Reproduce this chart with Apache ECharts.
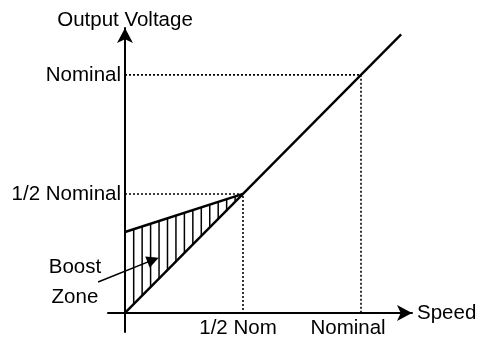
<!DOCTYPE html>
<html><head><meta charset="utf-8">
<script src="https://cdn.jsdelivr.net/npm/echarts@6/dist/echarts.min.js"></script>
<style>html,body{margin:0;padding:0;background:#fff}#c{width:478px;height:337px}</style>
</head><body><div id="c"></div>
<script>
// ---- Data (fractions of nominal) ----
const xTickValues = [0.5, 1];
const xTickLabels = ['1/2 Nom', 'Nominal'];
const yTickValues = [0.5, 1];
const yTickLabels = ['1/2 Nominal', 'Nominal'];
const outputLine = [[0, 0], [1.17, 1.17]];
const boostLine = [[0, 0.34], [0.5, 0.5]];
const boostZone = [[0, 0], [0, 0.34], [0.5, 0.5]];
const halfGuide = [[0, 0.5], [0.5, 0.5], [0.5, 0]];
const nomGuide = [[0, 1], [1, 1], [1, 0]];
const boostArrow = [[-0.114, 0.13], [0.119, 0.223]];
const boostLabelPos = [[-0.212, 0.13]];

const FONT = '"Liberation Sans", Arial, sans-serif';
const FS = 20.5;
const chart = echarts.init(document.getElementById('c'), null, {renderer: 'canvas'});

chart.setOption({
  animation: false,
  backgroundColor: '#fff',
  grid: {left: 108, right: 66, top: 28, bottom: 5, containLabel: false, outerBoundsMode: 'none'},
  xAxis: {
    type: 'value', min: -0.072, max: 1.216, position: 'bottom', offset: -19,
    axisLine: {onZero: false, lineStyle: {color: '#000', width: 2}, symbol: ['none', 'arrow'], symbolSize: [12, 15]},
    axisTick: {show: false}, splitLine: {show: false},
    axisLabel: {
      customValues: xTickValues, margin: 5, color: '#000', fontFamily: FONT, fontSize: FS,
      formatter: v => { const i = xTickValues.indexOf(v); return i === 0 ? '{a|' + xTickLabels[0] + '}' : '{b|' + xTickLabels[1] + '}'; },
      rich: {
        a: {color: '#000', fontFamily: FONT, fontSize: FS, padding: [0, 10, 0, 0]},
        b: {color: '#000', fontFamily: FONT, fontSize: FS, padding: [0, 26, 0, 0]}
      }
    },
    name: 'Speed', nameLocation: 'end', nameGap: 5,
    nameTextStyle: {color: '#000', fontFamily: FONT, fontSize: FS, verticalAlign: 'middle'}
  },
  yAxis: {
    type: 'value', min: -0.08, max: 1.197, position: 'left', offset: -17,
    axisLine: {onZero: false, lineStyle: {color: '#000', width: 2}, symbol: ['none', 'arrow'], symbolSize: [12, 15]},
    axisTick: {show: false}, splitLine: {show: false},
    axisLabel: {
      customValues: yTickValues, margin: 4, color: '#000', fontFamily: FONT, fontSize: FS,
      formatter: v => yTickLabels[yTickValues.indexOf(v)]
    },
    name: 'Output Voltage', nameLocation: 'end', nameGap: -3,
    nameTextStyle: {color: '#000', fontFamily: FONT, fontSize: FS, align: 'center'}
  },
  series: [
    {
      type: 'line', data: halfGuide, symbol: 'none', silent: true,
      lineStyle: {color: '#000', width: 1.6, type: [2, 2]}
    },
    {
      type: 'line', data: nomGuide, symbol: 'none', silent: true,
      lineStyle: {color: '#000', width: 1.6, type: [2, 2]}
    },
    {
      type: 'custom', coordinateSystem: 'cartesian2d', data: [[0, 0]], silent: true, clip: false,
      renderItem: function (params, api) {
        const a = api.coord(boostZone[0]), b = api.coord(boostZone[1]), c = api.coord(boostZone[2]);
        const children = [];
        const step = 8.45;
        for (let x = a[0] + 8.7; x < c[0] - 4; x += step) {
          const t = (x - a[0]) / (c[0] - a[0]);
          const yt = b[1] + t * (c[1] - b[1]);
          const yb = a[1] + t * (c[1] - a[1]);
          children.push({type: 'line', shape: {x1: x, y1: yt, x2: x, y2: yb}, style: {stroke: '#000', lineWidth: 1.5}});
        }
        return {type: 'group', children: children};
      }
    },
    {
      type: 'line', data: boostLine, symbol: 'none', silent: true,
      lineStyle: {color: '#000', width: 2.4}
    },
    {
      type: 'line', data: outputLine, symbol: 'none', silent: true,
      lineStyle: {color: '#000', width: 2.4}
    },
    {
      type: 'lines', coordinateSystem: 'cartesian2d', silent: true, clip: false,
      symbol: ['none', 'triangle'], symbolSize: 12,
      lineStyle: {color: '#000', width: 1.6, opacity: 1, curveness: 0},
      data: [{coords: boostArrow}]
    },
    {
      type: 'scatter', data: boostLabelPos, symbolSize: 0, silent: true, clip: false,
      itemStyle: {opacity: 1, color: '#000'},
      label: {
        show: true, position: 'inside', formatter: 'Boost\nZone', color: '#000', opacity: 1,
        fontFamily: FONT, fontSize: FS, lineHeight: 30, align: 'center'
      }
    }
  ]
});
</script></body></html>
